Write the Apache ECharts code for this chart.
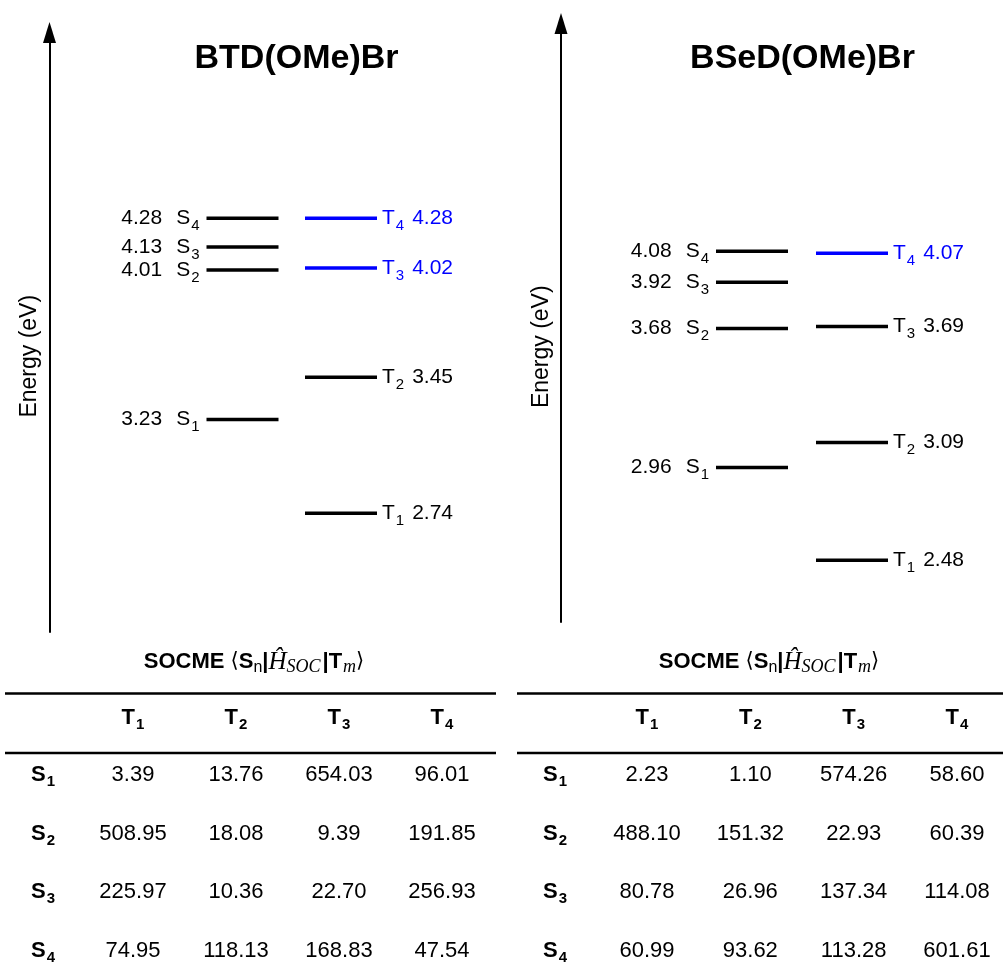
<!DOCTYPE html>
<html><head><meta charset="utf-8">
<script src="https://cdn.jsdelivr.net/npm/echarts@6/dist/echarts.min.js"></script>
<style>html,body{margin:0;padding:0;background:#fff}#c{width:1003px;height:965px}</style>
</head><body><div id="c"></div>
<script>
// ---------- data ----------
const molecules = ['BTD(OMe)Br', 'BSeD(OMe)Br'];
const btdSinglets = [3.23, 4.01, 4.13, 4.28];   // S1..S4 (eV)
const btdTriplets = [2.74, 3.45, 4.02, 4.28];   // T1..T4 (eV)
const btdBlueTriplets = [3, 4];
const bsedSinglets = [2.96, 3.68, 3.92, 4.08];
const bsedTriplets = [2.48, 3.09, 3.69, 4.07];
const bsedBlueTriplets = [4];
const tableCols = ['T1', 'T2', 'T3', 'T4'];
const tableRows = ['S1', 'S2', 'S3', 'S4'];
const btdSocme = [
  [3.39, 13.76, 654.03, 96.01],
  [508.95, 18.08, 9.39, 191.85],
  [225.97, 10.36, 22.70, 256.93],
  [74.95, 118.13, 168.83, 47.54]
];
const bsedSocme = [
  [2.23, 1.10, 574.26, 58.60],
  [488.10, 151.32, 22.93, 60.39],
  [80.78, 26.96, 137.34, 114.08],
  [60.99, 93.62, 113.28, 601.61]
];
const axisName = 'Energy (eV)';

// ---------- style ----------
const F = '"Liberation Sans", Arial, Helvetica, sans-serif';
const SERIF = '"Liberation Serif", "DejaVu Serif", serif';
const BLUE = '#0000ff';

function levelRich(color) {
  return {
    num: { fontFamily: F, fontSize: 21, fill: color, lineHeight: 30, padding: [0, 14, 0, 0] },
    num2: { fontFamily: F, fontSize: 21, fill: color, lineHeight: 30, padding: [0, 0, 0, 8] },
    main: { fontFamily: F, fontSize: 21, fill: color, lineHeight: 30 },
    sub: { fontFamily: F, fontSize: 15, fill: color, padding: [15, 0, 0, 1] }
  };
}

function buildLevels(singlets, triplets, blue) {
  const data = [], meta = [];
  singlets.forEach((e, i) => { data.push([0, e]); meta.push({ kind: 'S', n: i + 1, e, blue: false }); });
  triplets.forEach((e, i) => { data.push([1, e]); meta.push({ kind: 'T', n: i + 1, e, blue: blue.indexOf(i + 1) >= 0 }); });
  return { data, meta };
}

function levelRenderer(meta) {
  return function (params, api) {
    const m = meta[params.dataIndex];
    const p = api.coord([api.value(0), api.value(1)]);
    const color = m.blue ? BLUE : '#000';
    const half = 36;
    const isS = m.kind === 'S';
    const text = isS
      ? '{num|' + m.e.toFixed(2) + '}{main|S}{sub|' + m.n + '}'
      : '{main|T}{sub|' + m.n + '}{num2|' + m.e.toFixed(2) + '}';
    return {
      type: 'group',
      children: [
        { type: 'line', shape: { x1: p[0] - half, y1: p[1], x2: p[0] + half, y2: p[1] },
          style: { stroke: color, lineWidth: 3.5 } },
        { type: 'text', x: isS ? p[0] - half - 7 : p[0] + half + 5, y: p[1],
          style: { text: text, align: isS ? 'right' : 'left', verticalAlign: 'middle',
                   fill: color, rich: levelRich(color) } }
      ]
    };
  };
}

function tableRenderer() {
  return function (params, api) {
    const p = api.coord([api.value(0), api.value(1)]);
    return { type: 'text', x: p[0], y: p[1],
      style: { text: Number(api.value(2)).toFixed(2), align: 'center', verticalAlign: 'middle',
               fill: '#000', font: '22px ' + F } };
  };
}

function tableData(matrix) {
  const d = [];
  matrix.forEach((row, r) => row.forEach((v, c) => d.push([c, r, v])));
  return d;
}

const left = buildLevels(btdSinglets, btdTriplets, btdBlueTriplets);
const right = buildLevels(bsedSinglets, bsedTriplets, bsedBlueTriplets);

function energyYAxis(gridIndex, min, max, offset) {
  return {
    type: 'value', gridIndex, min, max, offset, position: 'left',
    axisLine: { show: true, symbol: ['none', 'triangle'], symbolSize: [13, 21],
                lineStyle: { color: '#000', width: 2 } },
    axisTick: { show: false }, axisLabel: { show: false }, splitLine: { show: false },
    name: axisName, nameLocation: 'middle', nameRotate: 90, nameGap: 8,
    nameTextStyle: { fontFamily: F, fontSize: 23, color: '#000', padding: [0, 48, 0, 0] }
  };
}

const headRich = {
  t: { fontFamily: F, fontSize: 22, fontWeight: 'bold', color: '#000', lineHeight: 30 },
  ts: { fontFamily: F, fontSize: 15, fontWeight: 'bold', color: '#000', padding: [14, 0, 0, 1] }
};

function tableXAxis(gridIndex) {
  return {
    type: 'category', gridIndex, data: tableCols, position: 'top', boundaryGap: false,
    axisLine: { show: false }, axisTick: { show: false }, splitLine: { show: false },
    axisLabel: { interval: 0, margin: 42, formatter: v => '{t|' + v[0] + '}{ts|' + v.slice(1) + '}', rich: headRich }
  };
}
function tableYAxis(gridIndex, margin) {
  return {
    type: 'category', gridIndex, data: tableRows, inverse: true, boundaryGap: false,
    axisLine: { show: false }, axisTick: { show: false }, splitLine: { show: false },
    axisLabel: { interval: 0, margin, formatter: v => '{t|' + v[0] + '}{ts|' + v.slice(1) + '}', rich: headRich }
  };
}

const socTitle = '{b|SOCME }{a|⟨}{b|S}{n|n}{b||}{h|Ĥ}{s|SOC}{b||T}{m|m}{a|⟩}';
const socRich = {
  b: { fontFamily: F, fontSize: 22, fontWeight: 'bold', fill: '#000', lineHeight: 30 },
  a: { fontFamily: '"DejaVu Sans", sans-serif', fontSize: 21, fill: '#000', lineHeight: 30 },
  n: { fontFamily: F, fontSize: 16, fill: '#000', padding: [12, 0, 0, 0] },
  h: { fontFamily: SERIF, fontSize: 25, fontStyle: 'italic', fill: '#000', lineHeight: 30 },
  s: { fontFamily: SERIF, fontSize: 18, fontStyle: 'italic', fill: '#000', padding: [10, 2, 0, 0] },
  m: { fontFamily: SERIF, fontSize: 18, fontStyle: 'italic', fill: '#000', padding: [10, 0, 0, 1] }
};

const chart = echarts.init(document.getElementById('c'), null, { renderer: 'canvas' });
chart.setOption({
  animation: false,
  backgroundColor: '#fff',
  grid: [
    { left: 242.5, width: 98.5, top: 32.5, height: 599.5 },
    { left: 752, width: 100, top: 23.5, height: 598.5 },
    { left: 133, width: 309, top: 775, height: 177 },
    { left: 647, width: 310, top: 775, height: 177 }
  ],
  xAxis: [
    { type: 'category', gridIndex: 0, data: ['S', 'T'], boundaryGap: false, show: false },
    { type: 'category', gridIndex: 1, data: ['S', 'T'], boundaryGap: false, show: false },
    tableXAxis(2), tableXAxis(3)
  ],
  yAxis: [
    energyYAxis(0, 2.12, 5.25, 193),
    energyYAxis(1, 2.16, 5.26, 191),
    tableYAxis(2, 78), tableYAxis(3, 80)
  ],
  graphic: [
    { type: 'text', x: 296.5, y: 59, style: { text: molecules[0], align: 'center', verticalAlign: 'middle', font: 'bold 34px ' + F, fill: '#000' } },
    { type: 'text', x: 802.5, y: 59, style: { text: molecules[1], align: 'center', verticalAlign: 'middle', font: 'bold 34px ' + F, fill: '#000' } },
    { type: 'text', x: 254, y: 662, style: { text: socTitle, rich: socRich, align: 'center', verticalAlign: 'middle' } },
    { type: 'text', x: 769, y: 662, style: { text: socTitle, rich: socRich, align: 'center', verticalAlign: 'middle' } },
    { type: 'line', shape: { x1: 5, y1: 693.5, x2: 496, y2: 693.5 }, style: { stroke: '#000', lineWidth: 2.5 } },
    { type: 'line', shape: { x1: 5, y1: 753, x2: 496, y2: 753 }, style: { stroke: '#000', lineWidth: 2.5 } },
    { type: 'line', shape: { x1: 517, y1: 693.5, x2: 1003, y2: 693.5 }, style: { stroke: '#000', lineWidth: 2.5 } },
    { type: 'line', shape: { x1: 517, y1: 753, x2: 1003, y2: 753 }, style: { stroke: '#000', lineWidth: 2.5 } }
  ],
  series: [
    { type: 'custom', xAxisIndex: 0, yAxisIndex: 0, data: left.data, renderItem: levelRenderer(left.meta) },
    { type: 'custom', xAxisIndex: 1, yAxisIndex: 1, data: right.data, renderItem: levelRenderer(right.meta) },
    { type: 'custom', xAxisIndex: 2, yAxisIndex: 2, data: tableData(btdSocme), renderItem: tableRenderer() },
    { type: 'custom', xAxisIndex: 3, yAxisIndex: 3, data: tableData(bsedSocme), renderItem: tableRenderer() }
  ]
});
</script></body></html>
